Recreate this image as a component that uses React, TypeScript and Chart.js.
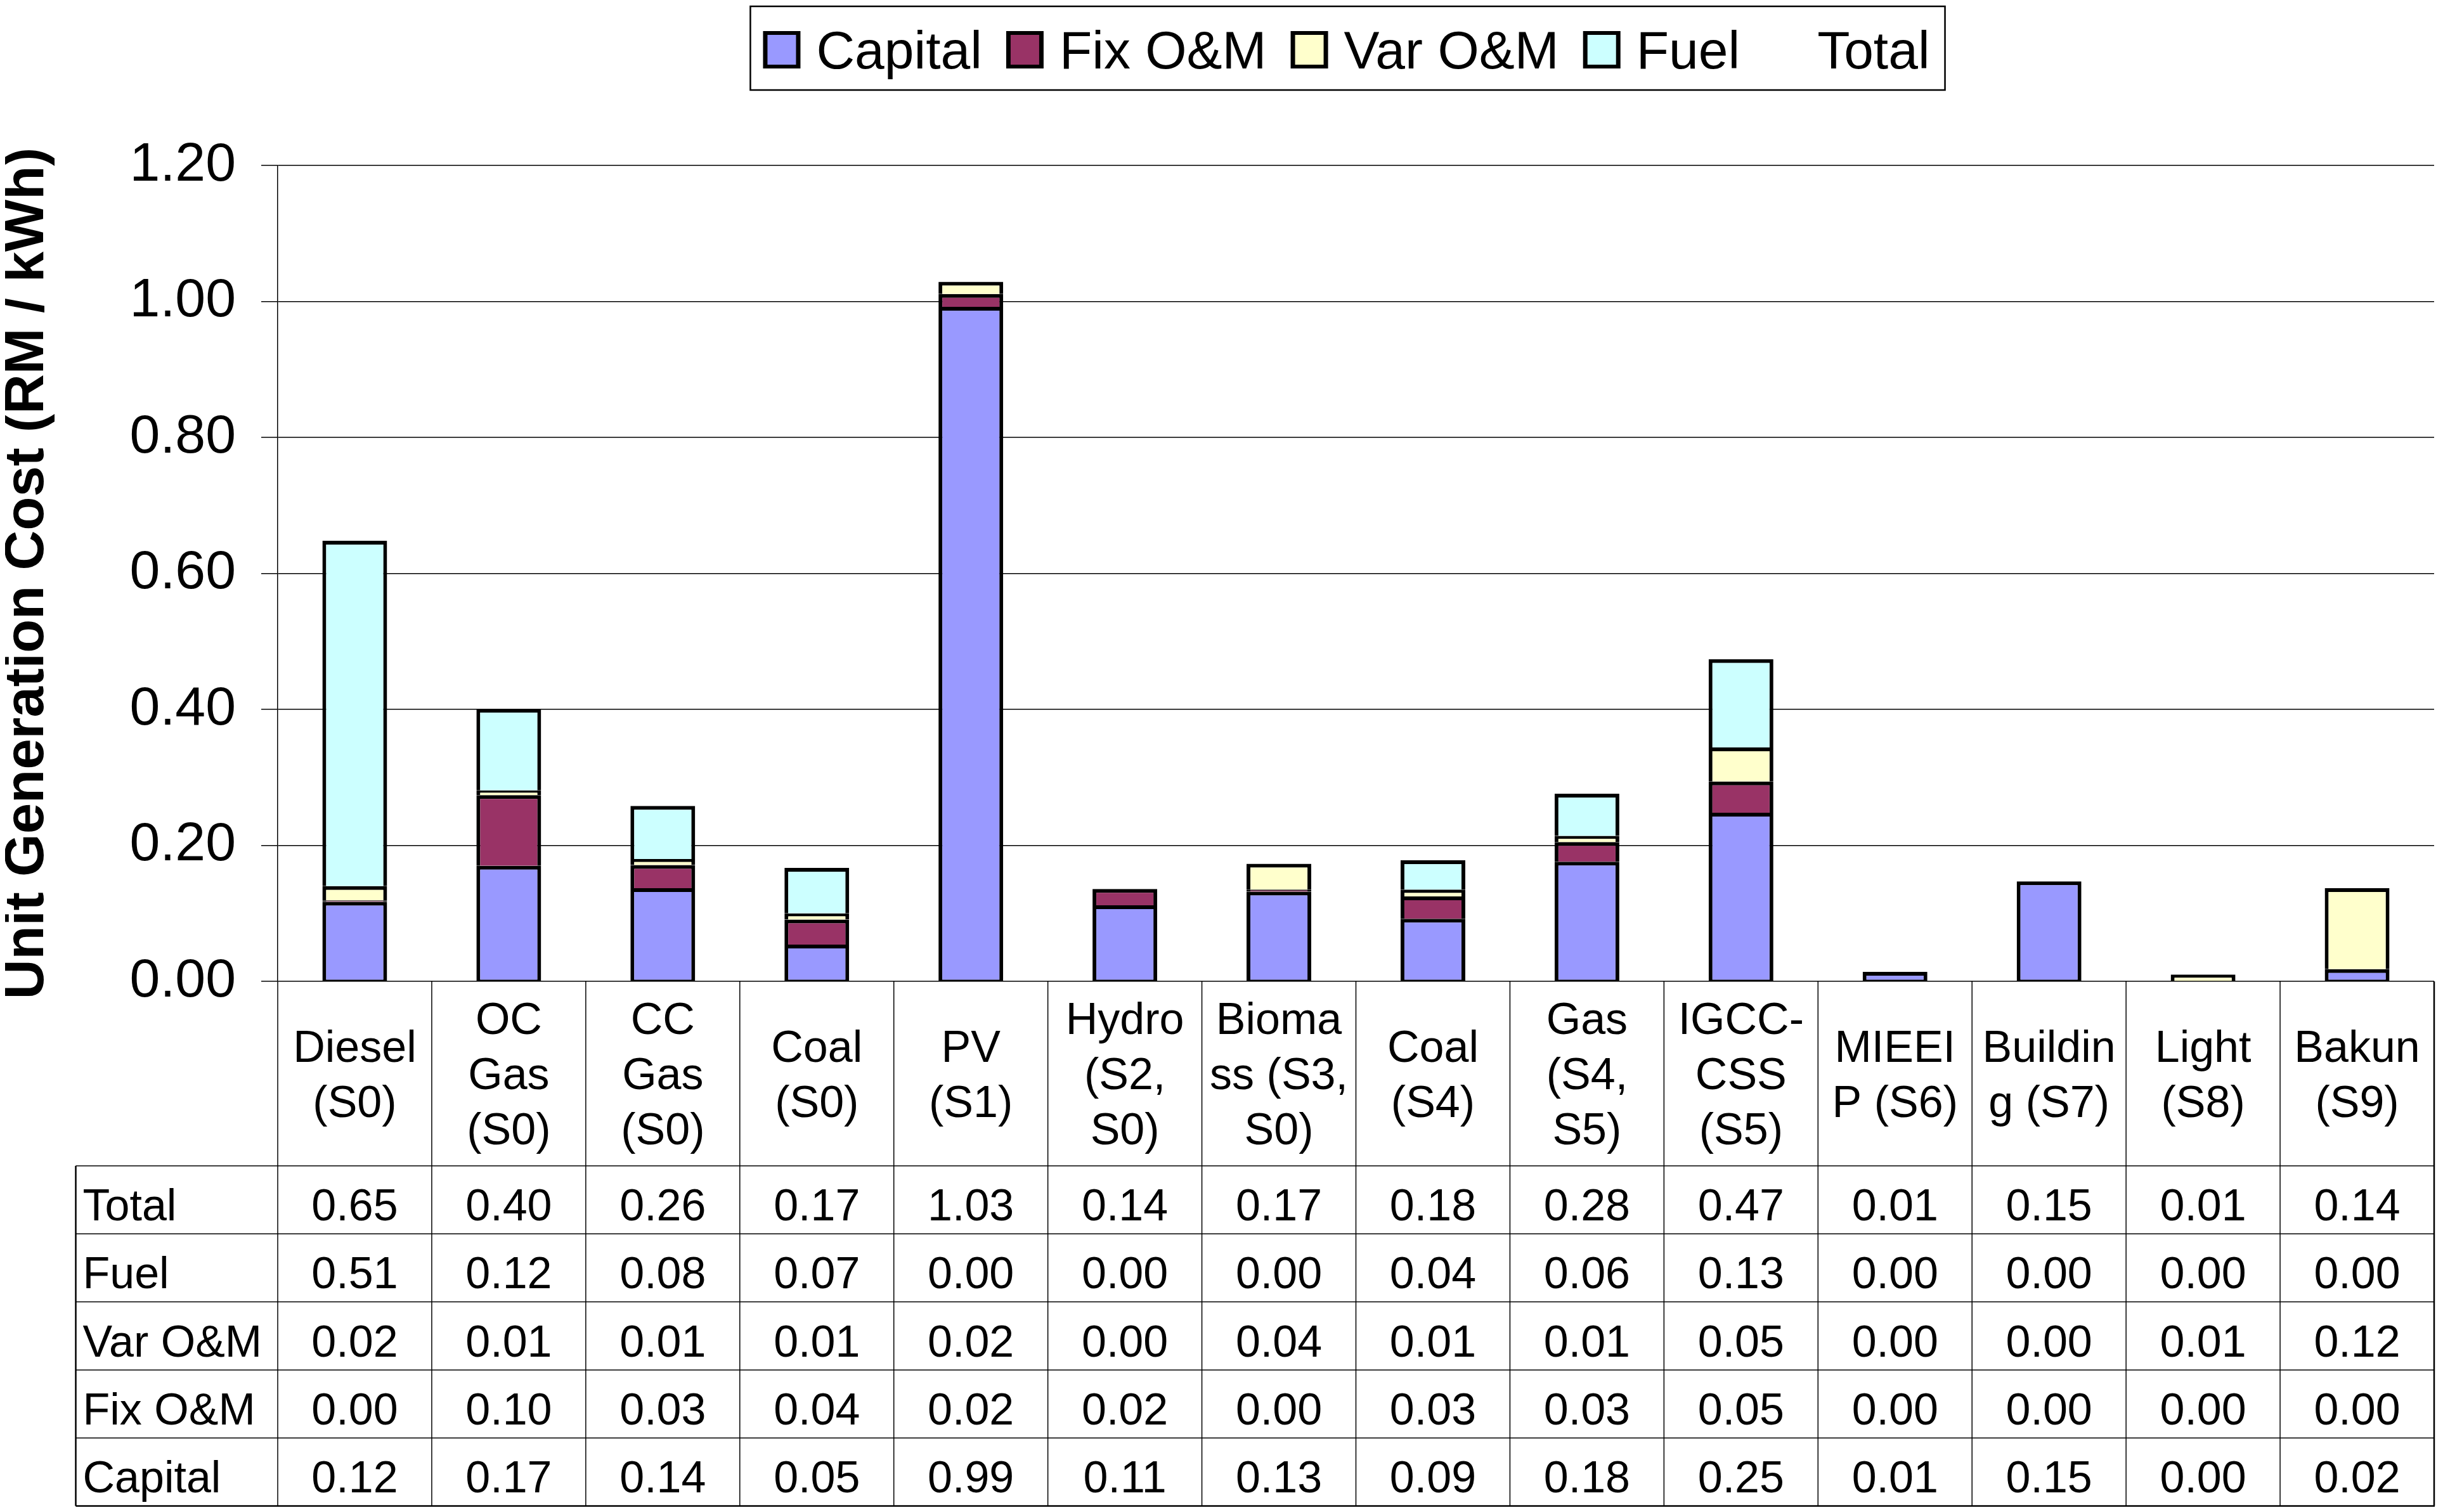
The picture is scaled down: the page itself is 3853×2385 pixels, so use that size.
import React, { useEffect, useRef } from "react";
import { Chart, registerables } from "chart.js";

Chart.register(...registerables);

const FONT = "'Liberation Sans', Arial, Helvetica, sans-serif";

// Categories (wrapped as in the original data table)
const categories: string[][] = [
  ["Diesel", "(S0)"],
  ["OC", "Gas", "(S0)"],
  ["CC", "Gas", "(S0)"],
  ["Coal", "(S0)"],
  ["PV", "(S1)"],
  ["Hydro", "(S2,", "S0)"],
  ["Bioma", "ss (S3,", "S0)"],
  ["Coal", "(S4)"],
  ["Gas", "(S4,", "S5)"],
  ["IGCC-", "CSS", "(S5)"],
  ["MIEEI", "P (S6)"],
  ["Buildin", "g (S7)"],
  ["Light", "(S8)"],
  ["Bakun", "(S9)"],
];

// Series values (RM / kWh)
const capital = [0.117, 0.170, 0.137, 0.054, 0.992, 0.112, 0.132, 0.092, 0.176, 0.248, 0.014, 0.147, 0.000, 0.018];
const fixOM = [0.002, 0.104, 0.034, 0.037, 0.019, 0.024, 0.003, 0.033, 0.029, 0.046, 0.000, 0.000, 0.000, 0.000];
const varOM = [0.021, 0.007, 0.009, 0.009, 0.018, 0.000, 0.038, 0.010, 0.009, 0.050, 0.000, 0.000, 0.010, 0.119];
const fuel = [0.508, 0.120, 0.078, 0.067, 0.000, 0.000, 0.000, 0.043, 0.062, 0.130, 0.000, 0.000, 0.000, 0.000];
const total = [0.648, 0.401, 0.258, 0.167, 1.029, 0.136, 0.173, 0.178, 0.276, 0.474, 0.014, 0.147, 0.010, 0.137];

// Y axis ticks
const yTicks = [0, 0.2, 0.4, 0.6, 0.8, 1.0, 1.2];

const seriesNames = ["Capital", "Fix O&M", "Var O&M", "Fuel", "Total"];
const seriesColors = ["#9999FF", "#993366", "#FFFFCC", "#CCFFFF"];

const CANVAS_W = 3837;
const CANVAS_H = 2369;

const legendPlugin = {
  id: "boxedLegend",
  afterDraw(chart: any) {
    const ctx = chart.ctx as CanvasRenderingContext2D;
    const ds = chart.data.datasets;
    const items = ds.map((d: any) => ({
      label: d.label as string,
      color: d.type === "line" ? null : (d.backgroundColor as string),
    }));
    ctx.save();
    ctx.font = `84px ${FONT}`;
    const sw = 59;
    const gapText = 25;
    const gapItem = 38;
    const padL = 20;
    const padR = 24;
    const widths = items.map((it: any) => sw + gapText + ctx.measureText(it.label).width);
    const inner = widths.reduce((a: number, b: number) => a + b, 0) + gapItem * (items.length - 1);
    const boxW = inner + padL + padR;
    const cx = (chart.chartArea.left + chart.chartArea.right) / 2 - 13;
    const boxL = cx - boxW / 2;
    const boxT = 2;
    const boxB = 134;
    ctx.lineWidth = 2.5;
    ctx.strokeStyle = "#000";
    ctx.strokeRect(boxL, boxT, boxW, boxB - boxT);
    let x = boxL + padL;
    const swT = 41;
    const swB = 100;
    items.forEach((it: any, i: number) => {
      if (it.color) {
        ctx.fillStyle = "#000";
        ctx.fillRect(x, swT, sw, swB - swT);
        ctx.fillStyle = it.color;
        ctx.fillRect(x + 7, swT + 6, sw - 14, swB - swT - 12);
      }
      ctx.fillStyle = "#000";
      ctx.textAlign = "left";
      ctx.textBaseline = "alphabetic";
      ctx.fillText(it.label, x + sw + gapText, 100);
      x += widths[i] + gapItem;
    });
    ctx.restore();
  },
};

const tablePlugin = {
  id: "dataTable",
  afterDraw(chart: any) {
    const ctx = chart.ctx as CanvasRenderingContext2D;
    const area = chart.chartArea;
    const xs = chart.scales.x;
    const n = chart.data.labels.length;
    const colW = (area.right - area.left) / n;
    const tableLeft = 111.5;
    const catTop = area.bottom;
    const catH = 291;
    const rowH = 107.3;
    const ds = chart.data.datasets;
    // rows: Total first, then series in reverse order
    const rows: { label: string; values: number[] }[] = [];
    const totalDs = ds.find((d: any) => d.type === "line");
    rows.push({ label: totalDs.label, values: totalDs.data });
    ds.filter((d: any) => d.type !== "line")
      .slice()
      .reverse()
      .forEach((d: any) => rows.push({ label: d.label, values: d.data }));
    const rowsTop = catTop + catH;
    const bottom = rowsTop + rowH * rows.length;

    ctx.save();
    ctx.strokeStyle = "#000";
    // horizontal lines
    ctx.lineWidth = 1.5;
    for (let r = 0; r < rows.length; r++) {
      const y = rowsTop + r * rowH;
      ctx.beginPath();
      ctx.moveTo(tableLeft, y);
      ctx.lineTo(area.right, y);
      ctx.stroke();
    }
    // vertical lines
    for (let k = 0; k <= n; k++) {
      const x = area.left + k * colW;
      ctx.lineWidth = k === n ? 2.5 : 1.5;
      ctx.beginPath();
      ctx.moveTo(x, catTop);
      ctx.lineTo(x, bottom);
      ctx.stroke();
    }
    // left border and bottom border
    ctx.lineWidth = 2.5;
    ctx.beginPath();
    ctx.moveTo(tableLeft, rowsTop);
    ctx.lineTo(tableLeft, bottom);
    ctx.stroke();
    ctx.beginPath();
    ctx.moveTo(tableLeft, bottom);
    ctx.lineTo(area.right + 1, bottom);
    ctx.stroke();

    ctx.fillStyle = "#000";
    ctx.font = `70px ${FONT}`;
    // category labels
    ctx.textAlign = "center";
    ctx.textBaseline = "alphabetic";
    const lineH = 87;
    chart.data.labels.forEach((lab: string[], i: number) => {
      const cx = xs.getPixelForValue(i);
      const lines = Array.isArray(lab) ? lab : [lab];
      lines.forEach((ln, j) => {
        const y = catTop + 170 + (j - (lines.length - 1) / 2) * lineH;
        ctx.fillText(ln, cx, y);
      });
    });
    // rows
    rows.forEach((row, r) => {
      const base = rowsTop + r * rowH + 86;
      ctx.textAlign = "left";
      ctx.fillText(row.label, tableLeft + 11, base);
      ctx.textAlign = "center";
      row.values.forEach((v, i) => {
        ctx.fillText(Number(v).toFixed(2), xs.getPixelForValue(i), base);
      });
    });
    ctx.restore();
  },
};

export default function App() {
  const ref = useRef<HTMLCanvasElement | null>(null);

  useEffect(() => {
    if (!ref.current) return;
    const barBase = {
      type: "bar" as const,
      borderColor: "#000",
      borderWidth: 6,
      barPercentage: 0.42,
      categoryPercentage: 1.0,
      stack: "cost",
    };
    const chart = new Chart(ref.current, {
      type: "bar",
      data: {
        labels: categories as any,
        datasets: [
          {
            ...barBase,
            label: seriesNames[0],
            data: capital,
            backgroundColor: seriesColors[0],
            borderSkipped: false,
            borderWidth: { top: 6, left: 6, right: 6, bottom: 2 },
          },
          { ...barBase, label: seriesNames[1], data: fixOM, backgroundColor: seriesColors[1] },
          { ...barBase, label: seriesNames[2], data: varOM, backgroundColor: seriesColors[2] },
          { ...barBase, label: seriesNames[3], data: fuel, backgroundColor: seriesColors[3] },
          {
            type: "line" as const,
            label: seriesNames[4],
            data: total,
            showLine: false,
            pointRadius: 0,
            pointHoverRadius: 0,
            borderColor: "rgba(0,0,0,0)",
            backgroundColor: "rgba(0,0,0,0)",
            stack: "total",
          },
        ] as any,
      },
      options: {
        responsive: false,
        animation: false,
        events: [],
        layout: { padding: { top: 253, right: 6, bottom: 829, left: 0 } },
        plugins: {
          legend: { display: false },
          tooltip: { enabled: false },
          title: { display: false },
        },
        scales: {
          x: { stacked: true, display: false, offset: true },
          y: {
            stacked: true,
            min: 0,
            max: 1.2,
            afterBuildTicks: (scale: any) => {
              scale.ticks = yTicks.map((v) => ({ value: v }));
            },
            ticks: {
              callback: (v: any) => Number(v).toFixed(2),
              font: { family: FONT, size: 86 },
              color: "#000",
              padding: 40,
            },
            grid: {
              color: "#000",
              lineWidth: 1.5,
              drawTicks: true,
              tickLength: 26,
              tickColor: "#000",
              tickWidth: 1.5,
            },
            border: { display: true, color: "#000", width: 1.5 },
            title: {
              display: true,
              text: "Unit Generation Cost (RM / kWh)",
              font: { family: FONT, size: 87, weight: "bold", lineHeight: 0.83 },
              color: "#000",
              padding: 0,
            },
            afterFit: (scale: any) => {
              scale.width = 430;
            },
          } as any,
        },
      },
      plugins: [legendPlugin, tablePlugin],
    });
    return () => chart.destroy();
  }, []);

  return (
    <canvas
      ref={ref}
      width={CANVAS_W}
      height={CANVAS_H}
      style={{ display: "block", width: CANVAS_W + "px", height: CANVAS_H + "px" }}
    />
  );
}
